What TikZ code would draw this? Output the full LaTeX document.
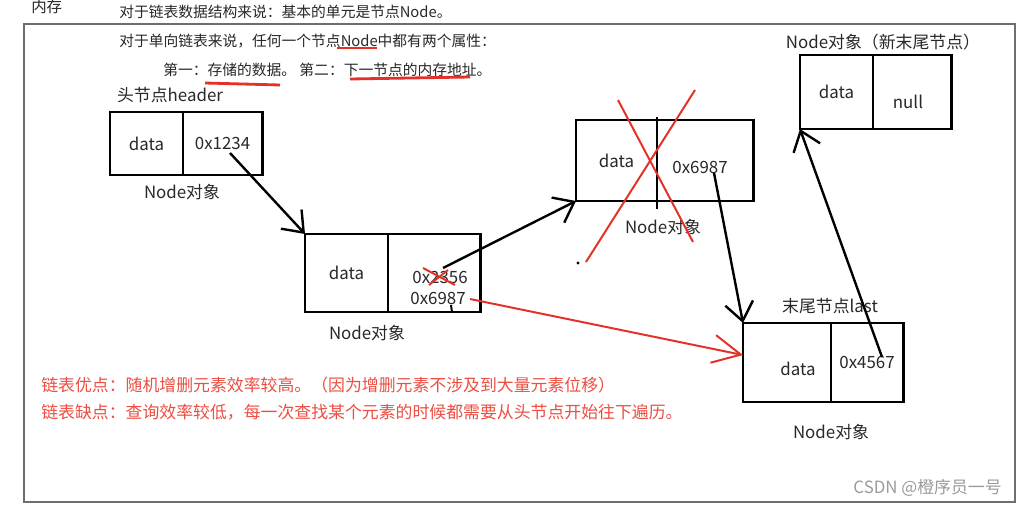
\documentclass[tikz,border=0pt]{standalone}
\usepackage{fontspec}
\setmainfont{Noto Sans CJK SC}
\usetikzlibrary{arrows.meta, positioning}
\definecolor{inkgray}{RGB}{40,40,40}
\definecolor{penred}{RGB}{228,48,38}
\definecolor{notered}{RGB}{236,78,66}
\definecolor{framegray}{RGB}{110,110,110}
\definecolor{markgray}{RGB}{155,155,155}
\tikzset{
	cell/.style={draw, line width=2.1pt, inner sep=0pt, outer sep=0pt, text=inkgray, font=\fontsize{12}{14}\selectfont},
	celltext/.style={inner sep=0pt, text=inkgray, font=\fontsize{12}{14}\selectfont},
	objtext/.style={inner sep=0pt, text=inkgray, font=\fontsize{12}{14}\selectfont},
	topnote/.style={anchor=west, inner sep=0pt, text=inkgray, font=\fontsize{10.5}{12}\selectfont},
	rednote/.style={anchor=west, inner sep=0pt, text=notered, font=\fontsize{12}{14}\selectfont},
	link/.style={draw, line width=1.7pt, -{Straight Barb[length=13pt,width=20pt]}},
	redlink/.style={draw=penred, line width=1.4pt, -{Straight Barb[length=20pt,width=20pt]}},
	redmark/.style={draw=penred, line width=1.4pt}
}
\begin{document}
\begin{tikzpicture}[x=0.025cm, y=-0.025cm]
		\path[use as bounding box, fill=white] (0,0) rectangle (1019,506);
		\draw[framegray, line width=1pt] (24,24) rectangle (1015,502);
		% notes on top
		\node[topnote, font=\fontsize{11}{13}\selectfont] (mem) at (31,7) {内存};
		\node[topnote] (t1) at (119,12) {对于链表数据结构来说：基本的单元是节点Node。};
		\node[topnote] (t2) at (119,41) {对于单向链表来说，任何一个节点Node中都有两个属性：};
		\node[topnote] (t3) at (163,70) {第一：存储的数据。 第二：下一节点的内存地址。};
		\draw[redmark, line width=2pt] (337,48) -- (377,48);
		\draw[redmark, line width=2pt] (205,83) -- (280,85);
		\draw[redmark, line width=2pt] (350,79) -- (470,77);
		% header
		\node[objtext] (hname) at (170,95) {头节点header};
		\node[cell, minimum width=1.825cm, minimum height=1.575cm] (hd) at (146.5,143.5) {data};
		\node[cell, minimum width=1.975cm, minimum height=1.575cm, right=0pt of hd] (ha) {0x1234};
		\node[objtext] (hobj) at (182,192) {Node对象};
		% second node
		\node[cell, minimum width=2.075cm, minimum height=1.95cm] (n2d) at (346.5,273) {data};
		\node[cell, minimum width=2.3cm, minimum height=1.95cm, right=0pt of n2d] (n2a) {};
		\node[celltext] (n2old) at (440,277) {0x2356};
		\node[celltext] (n2new) at (438,298) {0x6987};
		\node[objtext] (n2obj) at (367,333) {Node对象};
		% removed node
		\node[cell, minimum width=2.025cm, minimum height=2.025cm] (n3d) at (616.5,160.5) {data};
		\node[cell, minimum width=2.4cm, minimum height=2.025cm, right=0pt of n3d] (n3a) {};
		\node[celltext] (n3t) at (700,167) {0x6987};
		\draw[line width=2.1pt] ([yshift=2pt]n3d.north east) -- ([yshift=-6pt]n3d.south east);
		\node[objtext] (n3obj) at (663,227) {Node对象};
		% last node
		\node[objtext] (n4name) at (830,306) {末尾节点last};
		\node[cell, minimum width=2.2cm, minimum height=1.975cm] (n4d) at (787,362.5) {};
		\node[celltext] (n4t) at (798,369) {data};
		\node[cell, minimum width=1.8cm, minimum height=1.975cm, right=0pt of n4d] (n4a) {0x4567};
		\node[objtext] (n4obj) at (831,432) {Node对象};
		% new last node
		\node[objtext] (ntname) at (883,42) {Node对象（新末尾节点）};
		\node[cell, minimum width=1.825cm, minimum height=1.85cm] (ntd) at (836.5,92) {data};
		\node[cell, minimum width=1.95cm, minimum height=1.85cm, right=0pt of ntd] (nta) {};
		\node[celltext] (ntt) at (908,102) {null};
		% links
		\coordinate (hp) at (230,153);
		\coordinate (n2p) at (443,268);
		\coordinate (n2q) at (470,299);
		\coordinate (n3p) at (714,173);
		\coordinate (n4p) at (882,357);
		\draw[link] (hp) -- (n2d.north west);
		\draw[link] (n2p) -- (n3d.south west);
		\draw[link] (n3p) -- (n4d.north west);
		\draw[link] (n4p) -- (ntd.south west);
		\draw[redlink] (n2q) -- ([yshift=5.3pt]n4d.west);
		% crossed out
		\draw[redmark] (618,100) -- (693,242);
		\draw[redmark] (695,90) -- (586,262);
		\draw[redmark] (423,268) -- (455,285);
		\draw[redmark] (429,285) -- (448,270);
		\fill (578,263) circle (1.2pt);
		\draw[line width=1.4pt] (451,305) -- (452,312);
		% pros and cons
		\node[rednote] (pro) at (41,385) {链表优点：随机增删元素效率较高。（因为增删元素不涉及到大量元素位移）};
		\node[rednote] (con) at (41,412) {链表缺点：查询效率较低，每一次查找某个元素的时候都需要从头节点开始往下遍历。};
		\node[anchor=east, inner sep=0pt, text=markgray, font=\fontsize{12}{14}\selectfont] (mark) at (1002,488) {CSDN @橙序员一号};
\end{tikzpicture}
\end{document}
